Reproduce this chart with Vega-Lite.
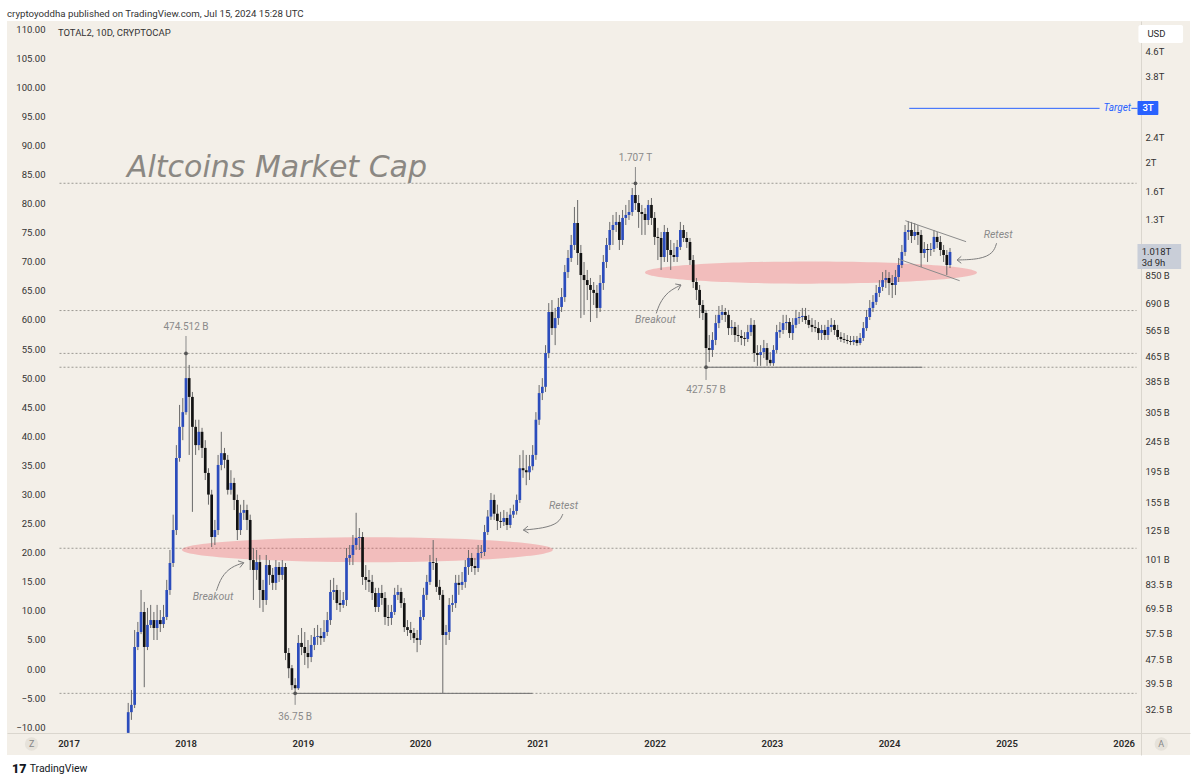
{
"$schema":"https://vega.github.io/schema/vega-lite/v6.json",
"width":1183,"height":734,
"autosize":{"type":"none"},
"padding":{"left":7,"top":21,"right":10,"bottom":28},
"background":"#ffffff",
"title":{"text":"cryptoyoddha published on TradingView.com, Jul 15, 2024 15:28 UTC","anchor":"start","offset":-6,"fontSize":9.7,"font":"Roboto","fontWeight":"normal","color":"#333333","baseline":"alphabetic","frame":"group"},
"config":{"view":{"fill":"#f3efe8","stroke":null}},
"datasets":{
"candles":[
{"d":"2017-07-06","o":27.3,"h":34.2,"l":27.3,"c":31.9},
{"d":"2017-07-16","o":31.9,"h":37.7,"l":30.1,"c":33.7},
{"d":"2017-07-26","o":33.7,"h":59.2,"l":32.9,"c":52.1},
{"d":"2017-08-05","o":52.1,"h":62.9,"l":50.9,"c":58.3},
{"d":"2017-08-15","o":58.3,"h":80,"l":57.4,"c":67.8},
{"d":"2017-08-25","o":67.8,"h":73.1,"l":38.5,"c":52.1},
{"d":"2017-09-04","o":52.1,"h":69.9,"l":50.9,"c":61.5},
{"d":"2017-09-14","o":61.5,"h":71.5,"l":60.1,"c":63.8},
{"d":"2017-09-24","o":63.8,"h":67.8,"l":54.9,"c":60.1},
{"d":"2017-10-04","o":60.1,"h":71.5,"l":54.9,"c":63.8},
{"d":"2017-10-14","o":63.8,"h":68.8,"l":58.3,"c":61.9},
{"d":"2017-10-24","o":61.9,"h":71.5,"l":60.1,"c":65.3},
{"d":"2017-11-03","o":65.3,"h":86.3,"l":63.8,"c":80},
{"d":"2017-11-13","o":80,"h":108.1,"l":77.1,"c":98},
{"d":"2017-11-23","o":98,"h":141,"l":95.1,"c":125.6},
{"d":"2017-12-03","o":125.6,"h":238,"l":121,"c":216},
{"d":"2017-12-13","o":216,"h":322,"l":210,"c":273},
{"d":"2017-12-23","o":273,"h":339,"l":247,"c":305},
{"d":"2018-01-02","o":305,"h":474.512,"l":299,"c":394},
{"d":"2018-01-12","o":394,"h":435,"l":221,"c":342},
{"d":"2018-01-22","o":342,"h":355,"l":144,"c":273},
{"d":"2018-02-01","o":273,"h":288,"l":221,"c":238},
{"d":"2018-02-11","o":238,"h":288,"l":229,"c":263},
{"d":"2018-02-21","o":263,"h":271,"l":216,"c":233},
{"d":"2018-03-03","o":233,"h":247,"l":183,"c":193},
{"d":"2018-03-13","o":193,"h":200,"l":152,"c":164},
{"d":"2018-03-23","o":164,"h":170,"l":110.5,"c":119.2},
{"d":"2018-04-02","o":119.2,"h":135.5,"l":112.2,"c":125.6},
{"d":"2018-04-12","o":125.6,"h":221,"l":121,"c":205},
{"d":"2018-04-22","o":205,"h":263,"l":197,"c":224},
{"d":"2018-05-02","o":224,"h":233,"l":200,"c":213},
{"d":"2018-05-12","o":213,"h":221,"l":164,"c":170},
{"d":"2018-05-22","o":170,"h":197,"l":164,"c":179},
{"d":"2018-06-01","o":179,"h":186,"l":146,"c":157.5},
{"d":"2018-06-11","o":157.5,"h":164,"l":116.5,"c":125.6},
{"d":"2018-06-21","o":125.6,"h":152,"l":121,"c":143},
{"d":"2018-07-01","o":143,"h":157.5,"l":135.5,"c":146},
{"d":"2018-07-11","o":146,"h":152,"l":125.6,"c":135.5},
{"d":"2018-07-21","o":135.5,"h":141,"l":93,"c":100.2},
{"d":"2018-07-31","o":100.2,"h":109.7,"l":74.2,"c":93},
{"d":"2018-08-10","o":93,"h":108.1,"l":86.3,"c":98.7},
{"d":"2018-08-20","o":98.7,"h":104.1,"l":69.9,"c":80},
{"d":"2018-08-30","o":80,"h":86.3,"l":67.8,"c":74.2},
{"d":"2018-09-09","o":74.2,"h":104.1,"l":71.5,"c":96.5},
{"d":"2018-09-19","o":96.5,"h":100.2,"l":83.1,"c":89.6},
{"d":"2018-09-29","o":89.6,"h":94.4,"l":80,"c":84.4},
{"d":"2018-10-09","o":84.4,"h":100.2,"l":80,"c":95.1},
{"d":"2018-10-19","o":95.1,"h":98.7,"l":85,"c":89.6},
{"d":"2018-10-29","o":89.6,"h":100.2,"l":86.3,"c":95.1},
{"d":"2018-11-08","o":95.1,"h":98,"l":47.2,"c":49.8},
{"d":"2018-11-18","o":49.8,"h":51.7,"l":41.2,"c":44.4},
{"d":"2018-11-28","o":44.4,"h":45.5,"l":37.7,"c":39.1},
{"d":"2018-12-08","o":39.1,"h":41.2,"l":36.75,"c":38.2},
{"d":"2018-12-18","o":38.2,"h":57,"l":37.7,"c":53.7},
{"d":"2018-12-28","o":53.7,"h":60.1,"l":49,"c":52.1},
{"d":"2019-01-07","o":52.1,"h":58.3,"l":45.5,"c":49.8},
{"d":"2019-01-17","o":49.8,"h":54.9,"l":44.4,"c":48.3},
{"d":"2019-01-27","o":48.3,"h":57,"l":46.5,"c":52.9},
{"d":"2019-02-06","o":52.9,"h":60.1,"l":50.9,"c":56.2},
{"d":"2019-02-16","o":56.2,"h":61.5,"l":52.9,"c":56.6},
{"d":"2019-02-26","o":56.6,"h":60.1,"l":52.9,"c":55.7},
{"d":"2019-03-08","o":55.7,"h":63.8,"l":54.1,"c":58.3},
{"d":"2019-03-18","o":58.3,"h":67.8,"l":56.6,"c":63.8},
{"d":"2019-03-28","o":63.8,"h":86.3,"l":61.5,"c":78.8},
{"d":"2019-04-07","o":78.8,"h":87.6,"l":74.2,"c":80},
{"d":"2019-04-17","o":80,"h":83.1,"l":68.8,"c":72.5},
{"d":"2019-04-27","o":72.5,"h":80,"l":67.8,"c":71.5},
{"d":"2019-05-07","o":71.5,"h":78.8,"l":69.9,"c":74.2},
{"d":"2019-05-17","o":74.2,"h":109.7,"l":70.9,"c":101.8},
{"d":"2019-05-27","o":101.8,"h":112.2,"l":96.5,"c":104.1},
{"d":"2019-06-06","o":104.1,"h":121,"l":96.5,"c":112.2},
{"d":"2019-06-16","o":112.2,"h":143,"l":108.1,"c":118.3},
{"d":"2019-06-26","o":118.3,"h":127.5,"l":108.1,"c":119.2},
{"d":"2019-07-06","o":119.2,"h":123.7,"l":83.1,"c":88.2},
{"d":"2019-07-16","o":88.2,"h":96.5,"l":80,"c":86.3},
{"d":"2019-07-26","o":86.3,"h":93,"l":78.8,"c":85},
{"d":"2019-08-05","o":85,"h":89.6,"l":74.2,"c":78.2},
{"d":"2019-08-15","o":78.2,"h":81.3,"l":67.8,"c":70.4},
{"d":"2019-08-25","o":70.4,"h":81.3,"l":67.8,"c":78.2},
{"d":"2019-09-04","o":78.2,"h":83.1,"l":71.5,"c":75.3},
{"d":"2019-09-14","o":75.3,"h":78.8,"l":61.5,"c":65.3},
{"d":"2019-09-24","o":65.3,"h":71.5,"l":61,"c":64.8},
{"d":"2019-10-04","o":64.8,"h":71.5,"l":61.5,"c":67.8},
{"d":"2019-10-14","o":67.8,"h":81.3,"l":66.3,"c":77.1},
{"d":"2019-10-24","o":77.1,"h":83.1,"l":74.2,"c":78.8},
{"d":"2019-11-03","o":78.8,"h":81.3,"l":69.9,"c":72.5},
{"d":"2019-11-13","o":72.5,"h":75.3,"l":58.3,"c":60.5},
{"d":"2019-11-23","o":60.5,"h":63.8,"l":56.6,"c":59.2},
{"d":"2019-12-03","o":59.2,"h":62.9,"l":54.9,"c":57.9},
{"d":"2019-12-13","o":57.9,"h":60.1,"l":53.7,"c":55.7},
{"d":"2019-12-23","o":55.7,"h":59.2,"l":50.1,"c":54.9},
{"d":"2020-01-02","o":54.9,"h":68.8,"l":52.9,"c":65.3},
{"d":"2020-01-12","o":65.3,"h":81.3,"l":63.8,"c":77.1},
{"d":"2020-01-22","o":77.1,"h":89.6,"l":74.2,"c":85},
{"d":"2020-02-01","o":85,"h":104.1,"l":83.1,"c":98.7},
{"d":"2020-02-11","o":98.7,"h":116.5,"l":93,"c":98},
{"d":"2020-02-21","o":98,"h":101.8,"l":78.8,"c":81.9},
{"d":"2020-03-02","o":81.9,"h":86.3,"l":74.2,"c":77.1},
{"d":"2020-03-12","o":77.1,"h":80,"l":36.8,"c":57},
{"d":"2020-03-22","o":57,"h":61.5,"l":52.9,"c":58.3},
{"d":"2020-04-01","o":58.3,"h":75.3,"l":54.9,"c":71.5},
{"d":"2020-04-11","o":71.5,"h":77.1,"l":67.8,"c":72.5},
{"d":"2020-04-21","o":72.5,"h":89.6,"l":69.9,"c":84.4},
{"d":"2020-05-01","o":84.4,"h":89.6,"l":77.1,"c":83.1},
{"d":"2020-05-11","o":83.1,"h":91.6,"l":80,"c":85},
{"d":"2020-05-21","o":85,"h":100.2,"l":81.3,"c":95.1},
{"d":"2020-05-31","o":95.1,"h":108.1,"l":89.6,"c":101.8},
{"d":"2020-06-10","o":101.8,"h":105.7,"l":91.6,"c":95.8},
{"d":"2020-06-20","o":95.8,"h":101.8,"l":89.6,"c":94.4},
{"d":"2020-06-30","o":94.4,"h":112.2,"l":91.6,"c":105.7},
{"d":"2020-07-10","o":105.7,"h":112.2,"l":101.8,"c":106.5},
{"d":"2020-07-20","o":106.5,"h":130.5,"l":103.3,"c":123.7},
{"d":"2020-07-30","o":123.7,"h":146,"l":121,"c":139},
{"d":"2020-08-09","o":139,"h":166,"l":135.5,"c":157.5},
{"d":"2020-08-19","o":157.5,"h":164,"l":135.5,"c":142},
{"d":"2020-08-29","o":142,"h":152,"l":125.6,"c":134.5},
{"d":"2020-09-08","o":134.5,"h":144,"l":127.5,"c":133.5},
{"d":"2020-09-18","o":133.5,"h":146,"l":129.5,"c":137.5},
{"d":"2020-09-28","o":137.5,"h":144,"l":125.6,"c":130.5},
{"d":"2020-10-08","o":130.5,"h":148,"l":127.5,"c":141},
{"d":"2020-10-18","o":141,"h":152,"l":137.5,"c":145},
{"d":"2020-10-28","o":145,"h":164,"l":141,"c":157.5},
{"d":"2020-11-07","o":157.5,"h":221,"l":154,"c":200},
{"d":"2020-11-17","o":200,"h":229,"l":186,"c":197},
{"d":"2020-11-27","o":197,"h":221,"l":176,"c":194},
{"d":"2020-12-07","o":194,"h":221,"l":183,"c":203},
{"d":"2020-12-17","o":203,"h":238,"l":197,"c":221},
{"d":"2020-12-27","o":221,"h":305,"l":213,"c":288},
{"d":"2021-01-06","o":288,"h":374,"l":277,"c":352},
{"d":"2021-01-16","o":352,"h":394,"l":334,"c":369},
{"d":"2021-01-26","o":369,"h":505,"l":355,"c":476},
{"d":"2021-02-05","o":476,"h":693,"l":458,"c":648},
{"d":"2021-02-15","o":648,"h":709,"l":545,"c":574},
{"d":"2021-02-25","o":574,"h":668,"l":505,"c":619},
{"d":"2021-03-07","o":619,"h":720,"l":588,"c":673},
{"d":"2021-03-17","o":673,"h":776,"l":648,"c":725},
{"d":"2021-03-27","o":725,"h":923,"l":699,"c":875},
{"d":"2021-04-06","o":875,"h":1033,"l":837,"c":973},
{"d":"2021-04-16","o":973,"h":1157,"l":944,"c":1073},
{"d":"2021-04-26","o":1073,"h":1428,"l":1033,"c":1266},
{"d":"2021-05-06","o":1266,"h":1505,"l":923,"c":1010},
{"d":"2021-05-16","o":1010,"h":1073,"l":619,"c":856},
{"d":"2021-05-26","o":856,"h":944,"l":634,"c":824},
{"d":"2021-06-05","o":824,"h":889,"l":709,"c":794},
{"d":"2021-06-15","o":794,"h":837,"l":601,"c":765},
{"d":"2021-06-25","o":765,"h":812,"l":683,"c":748},
{"d":"2021-07-05","o":748,"h":794,"l":619,"c":668},
{"d":"2021-07-15","o":668,"h":856,"l":648,"c":806},
{"d":"2021-07-25","o":806,"h":995,"l":765,"c":944},
{"d":"2021-08-04","o":944,"h":1131,"l":902,"c":1073},
{"d":"2021-08-14","o":1073,"h":1276,"l":1033,"c":1201},
{"d":"2021-08-24","o":1201,"h":1345,"l":1073,"c":1247},
{"d":"2021-09-03","o":1247,"h":1375,"l":1183,"c":1276},
{"d":"2021-09-13","o":1276,"h":1345,"l":1033,"c":1114},
{"d":"2021-09-23","o":1114,"h":1396,"l":1073,"c":1315},
{"d":"2021-10-03","o":1315,"h":1450,"l":1247,"c":1345},
{"d":"2021-10-13","o":1345,"h":1505,"l":1295,"c":1375},
{"d":"2021-10-23","o":1375,"h":1647,"l":1335,"c":1563},
{"d":"2021-11-02","o":1563,"h":1707,"l":1396,"c":1471},
{"d":"2021-11-12","o":1471,"h":1563,"l":1220,"c":1375},
{"d":"2021-11-22","o":1375,"h":1450,"l":1157,"c":1355},
{"d":"2021-12-02","o":1355,"h":1417,"l":1157,"c":1295},
{"d":"2021-12-12","o":1295,"h":1505,"l":1247,"c":1450},
{"d":"2021-12-22","o":1450,"h":1528,"l":1247,"c":1315},
{"d":"2022-01-01","o":1315,"h":1375,"l":1073,"c":1140},
{"d":"2022-01-11","o":1140,"h":1220,"l":958,"c":1131},
{"d":"2022-01-21","o":1131,"h":1183,"l":889,"c":980},
{"d":"2022-01-31","o":980,"h":1247,"l":944,"c":1183},
{"d":"2022-02-10","o":1183,"h":1220,"l":944,"c":1033},
{"d":"2022-02-20","o":1033,"h":1114,"l":889,"c":995},
{"d":"2022-03-02","o":995,"h":1089,"l":944,"c":980},
{"d":"2022-03-12","o":980,"h":1114,"l":944,"c":1057},
{"d":"2022-03-22","o":1057,"h":1276,"l":1033,"c":1201},
{"d":"2022-04-01","o":1201,"h":1247,"l":1097,"c":1131},
{"d":"2022-04-11","o":1131,"h":1183,"l":1049,"c":1097},
{"d":"2022-04-21","o":1097,"h":1131,"l":923,"c":958},
{"d":"2022-05-01","o":958,"h":995,"l":776,"c":812},
{"d":"2022-05-11","o":812,"h":837,"l":709,"c":765},
{"d":"2022-05-21","o":765,"h":794,"l":619,"c":683},
{"d":"2022-05-31","o":683,"h":709,"l":610,"c":643},
{"d":"2022-06-10","o":643,"h":658,"l":427.57,"c":494},
{"d":"2022-06-20","o":494,"h":545,"l":445,"c":487},
{"d":"2022-06-30","o":487,"h":557,"l":462,"c":525},
{"d":"2022-07-10","o":525,"h":634,"l":505,"c":596},
{"d":"2022-07-20","o":596,"h":678,"l":574,"c":634},
{"d":"2022-07-30","o":634,"h":683,"l":610,"c":648},
{"d":"2022-08-09","o":648,"h":668,"l":601,"c":634},
{"d":"2022-08-19","o":634,"h":658,"l":545,"c":574},
{"d":"2022-08-29","o":574,"h":610,"l":545,"c":579},
{"d":"2022-09-08","o":579,"h":601,"l":517,"c":545},
{"d":"2022-09-18","o":545,"h":588,"l":517,"c":541},
{"d":"2022-09-28","o":541,"h":566,"l":505,"c":533},
{"d":"2022-10-08","o":533,"h":557,"l":502,"c":529},
{"d":"2022-10-18","o":529,"h":588,"l":517,"c":557},
{"d":"2022-10-28","o":557,"h":619,"l":541,"c":588},
{"d":"2022-11-07","o":588,"h":610,"l":445,"c":476},
{"d":"2022-11-17","o":476,"h":505,"l":432,"c":469},
{"d":"2022-11-27","o":469,"h":505,"l":432,"c":479},
{"d":"2022-12-07","o":479,"h":525,"l":458,"c":494},
{"d":"2022-12-17","o":494,"h":513,"l":432,"c":452},
{"d":"2022-12-27","o":452,"h":479,"l":432,"c":441},
{"d":"2023-01-06","o":441,"h":505,"l":432,"c":487},
{"d":"2023-01-16","o":487,"h":588,"l":476,"c":557},
{"d":"2023-01-26","o":557,"h":601,"l":533,"c":566},
{"d":"2023-02-05","o":566,"h":634,"l":549,"c":596},
{"d":"2023-02-15","o":596,"h":634,"l":566,"c":601},
{"d":"2023-02-25","o":601,"h":619,"l":533,"c":553},
{"d":"2023-03-07","o":553,"h":619,"l":525,"c":588},
{"d":"2023-03-17","o":588,"h":658,"l":574,"c":619},
{"d":"2023-03-27","o":619,"h":648,"l":592,"c":624},
{"d":"2023-04-06","o":624,"h":668,"l":601,"c":629},
{"d":"2023-04-16","o":629,"h":668,"l":592,"c":610},
{"d":"2023-04-26","o":610,"h":634,"l":574,"c":588},
{"d":"2023-05-06","o":588,"h":619,"l":557,"c":579},
{"d":"2023-05-16","o":579,"h":610,"l":557,"c":574},
{"d":"2023-05-26","o":574,"h":601,"l":525,"c":553},
{"d":"2023-06-05","o":553,"h":588,"l":525,"c":566},
{"d":"2023-06-15","o":566,"h":588,"l":525,"c":545},
{"d":"2023-06-25","o":545,"h":610,"l":525,"c":579},
{"d":"2023-07-05","o":579,"h":619,"l":557,"c":588},
{"d":"2023-07-15","o":588,"h":610,"l":545,"c":566},
{"d":"2023-07-25","o":566,"h":588,"l":525,"c":537},
{"d":"2023-08-04","o":537,"h":557,"l":517,"c":529},
{"d":"2023-08-14","o":529,"h":553,"l":513,"c":525},
{"d":"2023-08-24","o":525,"h":545,"l":509,"c":521},
{"d":"2023-09-03","o":521,"h":541,"l":505,"c":517},
{"d":"2023-09-13","o":517,"h":541,"l":505,"c":525},
{"d":"2023-09-23","o":525,"h":541,"l":502,"c":513},
{"d":"2023-10-03","o":513,"h":553,"l":505,"c":533},
{"d":"2023-10-13","o":533,"h":601,"l":521,"c":574},
{"d":"2023-10-23","o":574,"h":658,"l":562,"c":624},
{"d":"2023-11-02","o":624,"h":709,"l":610,"c":668},
{"d":"2023-11-12","o":668,"h":736,"l":648,"c":699},
{"d":"2023-11-22","o":699,"h":794,"l":683,"c":748},
{"d":"2023-12-02","o":748,"h":824,"l":725,"c":782},
{"d":"2023-12-12","o":782,"h":875,"l":759,"c":824},
{"d":"2023-12-22","o":824,"h":889,"l":776,"c":837},
{"d":"2024-01-01","o":837,"h":875,"l":736,"c":806},
{"d":"2024-01-11","o":806,"h":856,"l":720,"c":794},
{"d":"2024-01-21","o":794,"h":889,"l":736,"c":843},
{"d":"2024-01-31","o":843,"h":973,"l":812,"c":923},
{"d":"2024-02-10","o":923,"h":1073,"l":902,"c":1018},
{"d":"2024-02-20","o":1018,"h":1247,"l":988,"c":1183},
{"d":"2024-03-01","o":1183,"h":1285,"l":1114,"c":1201},
{"d":"2024-03-11","o":1201,"h":1276,"l":1089,"c":1148},
{"d":"2024-03-21","o":1148,"h":1266,"l":1114,"c":1183},
{"d":"2024-03-31","o":1183,"h":1247,"l":1073,"c":1157},
{"d":"2024-04-10","o":1157,"h":1201,"l":909,"c":1010},
{"d":"2024-04-20","o":1010,"h":1097,"l":973,"c":1041},
{"d":"2024-04-30","o":1041,"h":1081,"l":944,"c":1033},
{"d":"2024-05-10","o":1033,"h":1089,"l":988,"c":1041},
{"d":"2024-05-20","o":1041,"h":1201,"l":1018,"c":1140},
{"d":"2024-05-30","o":1140,"h":1183,"l":1049,"c":1097},
{"d":"2024-06-09","o":1097,"h":1148,"l":988,"c":1033},
{"d":"2024-06-19","o":1033,"h":1073,"l":944,"c":995},
{"d":"2024-06-29","o":995,"h":1033,"l":856,"c":923},
{"d":"2024-07-09","o":923,"h":1049,"l":902,"c":1018}
],
"levels":[
{"v":1707,"d1":"2016-12-04","d2":"2026-02-10"},
{"v":655,"d1":"2016-12-04","d2":"2026-02-10"},
{"v":474.512,"d1":"2016-12-04","d2":"2026-02-10"},
{"v":427.57,"d1":"2016-12-04","d2":"2026-02-10"},
{"v":109.5,"d1":"2016-12-04","d2":"2026-02-10"},
{"v":36.75,"d1":"2016-12-04","d2":"2026-02-10"}
],
"solid":[
{"g":"a","d":"2022-06-10","v":427.57},{"g":"a","d":"2024-04-14","v":427.57},
{"g":"b","d":"2018-12-08","v":36.75},{"g":"b","d":"2020-12-16","v":36.75}
],
"channel":[
{"g":"u","d":"2024-02-21","v":1288},{"g":"u","d":"2024-08-28","v":1100},
{"g":"l","d":"2024-02-02","v":963},{"g":"l","d":"2024-08-08","v":820}
],
"target":[
{"g":"a","d":"2024-03-04","v":3000},{"g":"a","d":"2025-10-18","v":3000},
{"g":"b","d":"2026-01-25","v":3000},{"g":"b","d":"2026-02-13","v":3000}
],
"curves":[
{"g":"c1","i":1,"d":"2018-04-07","v":79.6},{"g":"c1","i":2,"d":"2018-04-22","v":88.4},{"g":"c1","i":3,"d":"2018-05-23","v":95.3},{"g":"c1","i":4,"d":"2018-07-01","v":98.2},
{"g":"c2","i":1,"d":"2021-03-21","v":141.6},{"g":"c2","i":2,"d":"2021-03-08","v":132.2},{"g":"c2","i":3,"d":"2021-01-20","v":127.3},{"g":"c2","i":4,"d":"2020-11-18","v":125.6},
{"g":"c3","i":1,"d":"2022-01-06","v":641},{"g":"c3","i":2,"d":"2022-01-16","v":691},{"g":"c3","i":3,"d":"2022-02-10","v":755},{"g":"c3","i":4,"d":"2022-03-24","v":794},
{"g":"c4","i":1,"d":"2024-12-01","v":1087},{"g":"c4","i":2,"d":"2024-11-21","v":1008},{"g":"c4","i":3,"d":"2024-10-11","v":963},{"g":"c4","i":4,"d":"2024-07-31","v":958}
],
"heads":[
{"g":"h1","i":1,"d":"2018-06-13","v":99.6},{"g":"h1","i":2,"d":"2018-07-01","v":98.2},{"g":"h1","i":3,"d":"2018-06-19","v":94.7},
{"g":"h2","i":1,"d":"2020-12-04","v":122.8},{"g":"h2","i":2,"d":"2020-11-18","v":125.6},{"g":"h2","i":3,"d":"2020-12-02","v":129.3},
{"g":"h3","i":1,"d":"2022-03-06","v":800},{"g":"h3","i":2,"d":"2022-03-24","v":794},{"g":"h3","i":3,"d":"2022-03-15","v":763},
{"g":"h4","i":1,"d":"2024-08-13","v":935},{"g":"h4","i":2,"d":"2024-07-31","v":958},{"g":"h4","i":3,"d":"2024-08-13","v":985}
],
"stems":[
{"d":"2018-01-02","v1":474.512,"v2":541},
{"d":"2021-11-02","v1":1707,"v2":1929},
{"d":"2022-06-10","v1":427.57,"v2":388.5},
{"d":"2018-12-08","v1":36.75,"v2":33.7}
],
"notes":[
{"d":"2018-01-02","v":580,"t":"474.512 B"},
{"d":"2021-11-02","v":2064,"t":"1.707 T"},
{"d":"2022-06-10","v":360.3,"t":"427.57 B"},
{"d":"2018-12-08","v":30.8,"t":"36.75 B"}
],
"arrowtext":[
{"d":"2018-03-27","v":75.6,"t":"Breakout"},
{"d":"2021-03-23","v":151,"t":"Retest"},
{"d":"2022-01-03","v":608,"t":"Breakout"},
{"d":"2024-12-06","v":1155,"t":"Retest"}
]
},
"layer":[
{
"data":{"values":[{"lv":-10},{"lv":110}]},
"mark":{"type":"point","opacity":0},
"encoding":{
"y":{"field":"lv","type":"quantitative","title":null,
"scale":{"domain":[-14.78,111.38],"nice":false,"zero":false},
"axis":{"orient":"left","offset":-48,"labelPadding":10,"domain":false,"ticks":false,"grid":false,"values":[-10,-5,0,5,10,15,20,25,30,35,40,45,50,55,60,65,70,75,80,85,90,95,100,105,110],"format":".2f","labelOverlap":false,"labelFont":"Roboto","labelFontSize":9.5,"labelColor":"#333333"}}
}
},
{
"layer":[
{
"data":{"name":"levels"},
"mark":{"type":"rule","strokeDash":[2,2],"color":"#9d9a94","strokeWidth":1},
"encoding":{
"x":{"field":"d1","type":"temporal","title":null,
"scale":{"type":"utc","domain":[{"year":2016,"month":7,"date":9,"utc":true},{"year":2026,"month":7,"date":11,"utc":true}],"nice":false},
"axis":{"orient":"bottom","offset":-22,"labelPadding":5,"domain":true,"domainColor":"#dad6ce","ticks":false,"grid":false,
"values":[{"year":2017,"month":1,"date":1,"utc":true},{"year":2018,"month":1,"date":1,"utc":true},{"year":2019,"month":1,"date":1,"utc":true},{"year":2020,"month":1,"date":1,"utc":true},{"year":2021,"month":1,"date":1,"utc":true},{"year":2022,"month":1,"date":1,"utc":true},{"year":2023,"month":1,"date":1,"utc":true},{"year":2024,"month":1,"date":1,"utc":true},{"year":2025,"month":1,"date":1,"utc":true},{"year":2026,"month":1,"date":1,"utc":true}],
"format":"%Y","labelFont":"Roboto","labelFontSize":9.5,"labelFontWeight":600,"labelColor":"#2a2a2a","labelFlush":false,"labelOverlap":false}},
"x2":{"field":"d2"},
"y":{"field":"v","type":"quantitative","title":null,
"scale":{"type":"log","domain":[23.11,5788],"nice":false},
"axis":{"orient":"right","offset":-49,"labelPadding":4,"domain":true,"domainColor":"#dad6ce","ticks":false,"grid":false,
"values":[32.5,39.5,47.5,57.5,69.5,83.5,101,125,155,195,245,305,385,465,565,690,850,1300,1600,2000,2400,3800,4600],
"labelExpr":"datum.value >= 1000 ? format(datum.value/1000, '~g') + 'T' : format(datum.value, '~g') + ' B'",
"labelFont":"Roboto","labelFontSize":9.5,"labelColor":"#333333","labelOverlap":false,"labelAlign":"left"}}
}
},
{
"data":{"values":[{"d":"2019-07-21","v":108.3}]},
"mark":{"type":"point","shape":"M -1 0 C -1 -0.037 -0.5523 -0.067 0 -0.067 C 0.5523 -0.067 1 -0.037 1 0 C 1 0.037 0.5523 0.067 0 0.067 C -0.5523 0.067 -1 0.037 -1 0 Z","size":137641,"filled":true,"color":"#f23645","opacity":0.27,"strokeWidth":0},
"encoding":{"x":{"field":"d","type":"temporal","title":null},"y":{"field":"v","type":"quantitative","title":null}}
},
{
"data":{"values":[{"d":"2023-05-03","v":872}]},
"mark":{"type":"point","shape":"M -1 0 C -1 -0.037 -0.5523 -0.067 0 -0.067 C 0.5523 -0.067 1 -0.037 1 0 C 1 0.037 0.5523 0.067 0 0.067 C -0.5523 0.067 -1 0.037 -1 0 Z","size":110224,"filled":true,"color":"#f23645","opacity":0.27,"strokeWidth":0},
"encoding":{"x":{"field":"d","type":"temporal","title":null},"y":{"field":"v","type":"quantitative","title":null}}
},
{
"data":{"name":"candles"},
"mark":{"type":"rule","color":"#6a6a6a","strokeWidth":1},
"encoding":{"x":{"field":"d","type":"temporal","title":null},"y":{"field":"l","type":"quantitative","title":null},"y2":{"field":"h"}}
},
{
"data":{"name":"candles"},
"mark":{"type":"bar","width":2.7},
"encoding":{"x":{"field":"d","type":"temporal","title":null},"y":{"field":"o","type":"quantitative","title":null},"y2":{"field":"c"},
"color":{"condition":{"test":"datum.c >= datum.o","value":"#2b4cbc"},"value":"#121212"}}
},
{
"data":{"name":"solid"},
"mark":{"type":"line","color":"#6f6f6f","strokeWidth":1},
"encoding":{"x":{"field":"d","type":"temporal","title":null},"y":{"field":"v","type":"quantitative","title":null},"detail":{"field":"g"}}
},
{
"data":{"name":"channel"},
"mark":{"type":"line","color":"#8c8c8c","strokeWidth":1},
"encoding":{"x":{"field":"d","type":"temporal","title":null},"y":{"field":"v","type":"quantitative","title":null},"detail":{"field":"g"}}
},
{
"data":{"name":"target"},
"mark":{"type":"line","color":"#2962ff","strokeWidth":1},
"encoding":{"x":{"field":"d","type":"temporal","title":null},"y":{"field":"v","type":"quantitative","title":null},"detail":{"field":"g"}}
},
{
"data":{"name":"curves"},
"mark":{"type":"line","color":"#7d7d7d","strokeWidth":1,"interpolate":"basis"},
"encoding":{"x":{"field":"d","type":"temporal","title":null},"y":{"field":"v","type":"quantitative","title":null},"detail":{"field":"g"},"order":{"field":"i"}}
},
{
"data":{"name":"heads"},
"mark":{"type":"line","color":"#7d7d7d","strokeWidth":1},
"encoding":{"x":{"field":"d","type":"temporal","title":null},"y":{"field":"v","type":"quantitative","title":null},"detail":{"field":"g"},"order":{"field":"i"}}
},
{
"data":{"name":"stems"},
"mark":{"type":"rule","color":"#8a8a8a","strokeWidth":1},
"encoding":{"x":{"field":"d","type":"temporal","title":null},"y":{"field":"v1","type":"quantitative","title":null},"y2":{"field":"v2"}}
},
{
"data":{"name":"stems"},
"mark":{"type":"point","filled":true,"size":14,"color":"#555555","opacity":1},
"encoding":{"x":{"field":"d","type":"temporal","title":null},"y":{"field":"v1","type":"quantitative","title":null}}
},
{
"data":{"name":"notes"},
"mark":{"type":"text","font":"Roboto","fontSize":10,"color":"#8a8a8a","align":"center","baseline":"middle"},
"encoding":{"x":{"field":"d","type":"temporal","title":null},"y":{"field":"v","type":"quantitative","title":null},"text":{"field":"t"}}
},
{
"data":{"name":"arrowtext"},
"mark":{"type":"text","font":"Roboto","fontSize":10.5,"fontStyle":"italic","color":"#8a8a8a","align":"center","baseline":"middle"},
"encoding":{"x":{"field":"d","type":"temporal","title":null},"y":{"field":"v","type":"quantitative","title":null},"text":{"field":"t"}}
},
{
"data":{"values":[{"d":"2017-07-02","v":1790,"t":"Altcoins Market Cap"}]},
"mark":{"type":"text","font":"DejaVu Sans","fontSize":30,"fontStyle":"italic","color":"#8b8883","align":"left","baseline":"alphabetic"},
"encoding":{"x":{"field":"d","type":"temporal","title":null},"y":{"field":"v","type":"quantitative","title":null},"text":{"field":"t"}}
},
{
"data":{"values":[{"d":"2016-11-29","v":5288,"t":"TOTAL2, 10D, CRYPTOCAP"}]},
"mark":{"type":"text","font":"Roboto","fontSize":9.5,"color":"#333333","align":"left","baseline":"middle"},
"encoding":{"x":{"field":"d","type":"temporal","title":null},"y":{"field":"v","type":"quantitative","title":null},"text":{"field":"t"}}
},
{
"data":{"values":[{"d":"2025-12-12","v":3000,"t":"Target"}]},
"mark":{"type":"text","font":"Roboto","fontSize":10,"fontStyle":"italic","color":"#2962ff","align":"center","baseline":"middle"},
"encoding":{"x":{"field":"d","type":"temporal","title":null},"y":{"field":"v","type":"quantitative","title":null},"text":{"field":"t"}}
},
{
"data":{"values":[{"d1":"2026-02-16","d2":"2026-07-05","v1":4905,"v2":5616}]},
"mark":{"type":"rect","color":"#ffffff","cornerRadius":2},
"encoding":{"x":{"field":"d1","type":"temporal","title":null},"x2":{"field":"d2"},"y":{"field":"v1","type":"quantitative","title":null},"y2":{"field":"v2"}}
},
{
"data":{"values":[{"d1":"2026-02-13","d2":"2026-04-19","v1":2853,"v2":3170}]},
"mark":{"type":"rect","color":"#2962ff","cornerRadius":1},
"encoding":{"x":{"field":"d1","type":"temporal","title":null},"x2":{"field":"d2"},"y":{"field":"v1","type":"quantitative","title":null},"y2":{"field":"v2"}}
},
{
"data":{"values":[{"d1":"2026-02-13","d2":"2026-06-29","v1":895.5,"v2":1081}]},
"mark":{"type":"rect","color":"#c9ced8"},
"encoding":{"x":{"field":"d1","type":"temporal","title":null},"x2":{"field":"d2"},"y":{"field":"v1","type":"quantitative","title":null},"y2":{"field":"v2"}}
},
{
"data":{"values":[{"d":"2026-03-16","v":5248,"t":"USD"},{"d":"2026-02-26","v":1018,"t":"1.018T"},{"d":"2026-02-26","v":937,"t":"3d 9h"}]},
"mark":{"type":"text","font":"Roboto","fontSize":9.5,"color":"#2a2a2a","align":"left","baseline":"middle"},
"encoding":{"x":{"field":"d","type":"temporal","title":null},"y":{"field":"v","type":"quantitative","title":null},"text":{"field":"t"}}
},
{
"data":{"values":[{"d":"2026-03-18","v":3000,"t":"3T"}]},
"mark":{"type":"text","font":"Roboto","fontSize":9.5,"fontWeight":600,"color":"#ffffff","align":"center","baseline":"middle"},
"encoding":{"x":{"field":"d","type":"temporal","title":null},"y":{"field":"v","type":"quantitative","title":null},"text":{"field":"t"}}
},
{
"data":{"values":[{"d":"2016-09-08","v":25.1},{"d":"2026-04-28","v":25.1}]},
"mark":{"type":"point","filled":true,"size":180,"color":"#e6e2da","opacity":1},
"encoding":{"x":{"field":"d","type":"temporal","title":null},"y":{"field":"v","type":"quantitative","title":null}}
},
{
"data":{"values":[{"d":"2016-09-08","v":25.1,"t":"Z"},{"d":"2026-04-28","v":25.1,"t":"A"}]},
"mark":{"type":"text","font":"Roboto","fontSize":9,"color":"#888888","align":"center","baseline":"middle"},
"encoding":{"x":{"field":"d","type":"temporal","title":null},"y":{"field":"v","type":"quantitative","title":null},"text":{"field":"t"}}
},
{
"data":{"values":[{"d":"2016-07-09","v":20.8,"t":"17"}]},
"mark":{"type":"text","font":"Roboto","fontSize":12.5,"fontWeight":900,"color":"#131722","align":"left","baseline":"middle"},
"encoding":{"x":{"field":"d","type":"temporal","title":null},"y":{"field":"v","type":"quantitative","title":null},"text":{"field":"t"}}
},
{
"data":{"values":[{"d":"2016-09-02","v":20.8,"t":"TradingView"}]},
"mark":{"type":"text","font":"Roboto","fontSize":10.5,"color":"#131722","align":"left","baseline":"middle"},
"encoding":{"x":{"field":"d","type":"temporal","title":null},"y":{"field":"v","type":"quantitative","title":null},"text":{"field":"t"}}
}
]
}
],
"resolve":{"scale":{"y":"independent"},"axis":{"y":"independent"}}
}
